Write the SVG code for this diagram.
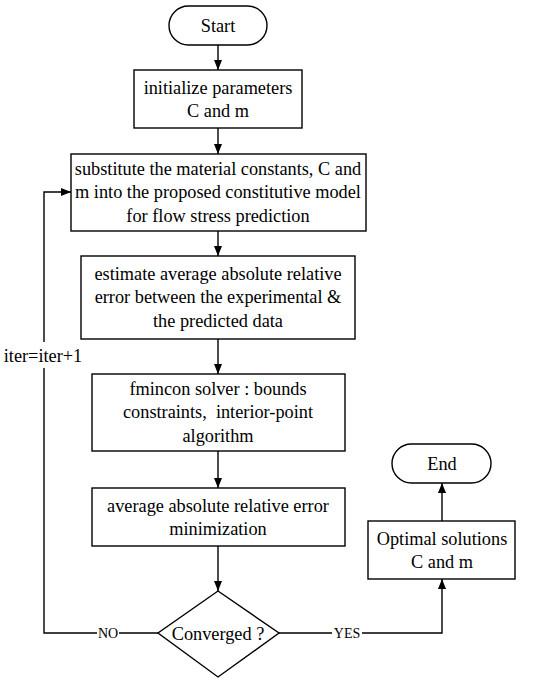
<svg xmlns="http://www.w3.org/2000/svg" width="550" height="681" viewBox="0 0 550 681">
<defs>
<marker id="ah" viewBox="0 0 10 8" refX="10" refY="4" markerWidth="10" markerHeight="8" markerUnits="userSpaceOnUse" orient="auto">
<path d="M0,0 L10,4 L0,8 Z" fill="#000"/>
</marker>
<style>
.s{fill:#fff;stroke:#000;stroke-width:1.4}
.t{font-family:"Liberation Serif","Times New Roman",serif;font-size:18.3px;text-anchor:middle;fill:#000}
.l{font-family:"Liberation Serif","Times New Roman",serif;font-size:14px;text-anchor:middle;fill:#000}
.c{fill:none;stroke:#000;stroke-width:1.4}
</style>
</defs>
<rect width="550" height="681" fill="#fff"/>
<g id="connectors">
<line class="c" x1="218" y1="45" x2="218" y2="70" marker-end="url(#ah)"/>
<line class="c" x1="218" y1="128" x2="218" y2="154" marker-end="url(#ah)"/>
<line class="c" x1="218" y1="231" x2="218" y2="256" marker-end="url(#ah)"/>
<line class="c" x1="218" y1="339" x2="218" y2="374" marker-end="url(#ah)"/>
<line class="c" x1="218" y1="451" x2="218" y2="488" marker-end="url(#ah)"/>
<line class="c" x1="218" y1="546" x2="218" y2="591" marker-end="url(#ah)"/>
<polyline class="c" points="158,633 44,633 44,192 71,192" marker-end="url(#ah)"/>
<polyline class="c" points="279,633 442,633 442,579" marker-end="url(#ah)"/>
<line class="c" x1="442" y1="521" x2="442" y2="483" marker-end="url(#ah)"/>
<rect x="97" y="624" width="22" height="17" fill="#fff"/>
<text class="l" x="108" y="638">NO</text>
<rect x="332" y="624" width="30" height="17" fill="#fff"/>
<text class="l" x="347" y="638">YES</text>
<rect x="4" y="342" width="80" height="26" fill="#fff"/>
<text class="t" x="43" y="362">iter=iter+1</text>
</g>
<g id="start">
<rect class="s" x="169" y="6" width="98" height="39" rx="19.5"/>
<text class="t" x="218" y="32">Start</text>
</g>
<g id="init">
<rect class="s" x="134" y="70" width="168" height="58"/>
<text class="t" x="218" y="94">initialize parameters</text>
<text class="t" x="218" y="117">C and m</text>
</g>
<g id="substitute">
<rect class="s" x="71" y="154" width="295" height="77"/>
<text class="t" x="218" y="175">substitute the material constants, C and</text>
<text class="t" x="218" y="198">m into the proposed constitutive model</text>
<text class="t" x="218" y="222">for flow stress prediction</text>
</g>
<g id="estimate">
<rect class="s" x="81" y="256" width="274" height="83"/>
<text class="t" x="218" y="280">estimate average absolute relative</text>
<text class="t" x="218" y="303">error between the experimental &amp;</text>
<text class="t" x="218" y="327">the predicted data</text>
</g>
<g id="fmincon">
<rect class="s" x="92" y="374" width="253" height="77"/>
<text class="t" x="218" y="395">fmincon solver : bounds</text>
<text class="t" x="218" y="418">constraints,&#160; interior-point</text>
<text class="t" x="218" y="442">algorithm</text>
</g>
<g id="minimize">
<rect class="s" x="92" y="488" width="253" height="58"/>
<text class="t" x="218" y="512">average absolute relative error</text>
<text class="t" x="218" y="535">minimization</text>
</g>
<g id="converged">
<polygon class="s" points="218,591 279,633 218,677 158,633"/>
<text class="t" x="218" y="640">Converged ?</text>
</g>
<g id="optimal">
<rect class="s" x="368" y="521" width="147" height="58"/>
<text class="t" x="442" y="545">Optimal solutions</text>
<text class="t" x="442" y="568">C and m</text>
</g>
<g id="end">
<rect class="s" x="392" y="444" width="99" height="39" rx="19.5"/>
<text class="t" x="442" y="470">End</text>
</g>
</svg>
